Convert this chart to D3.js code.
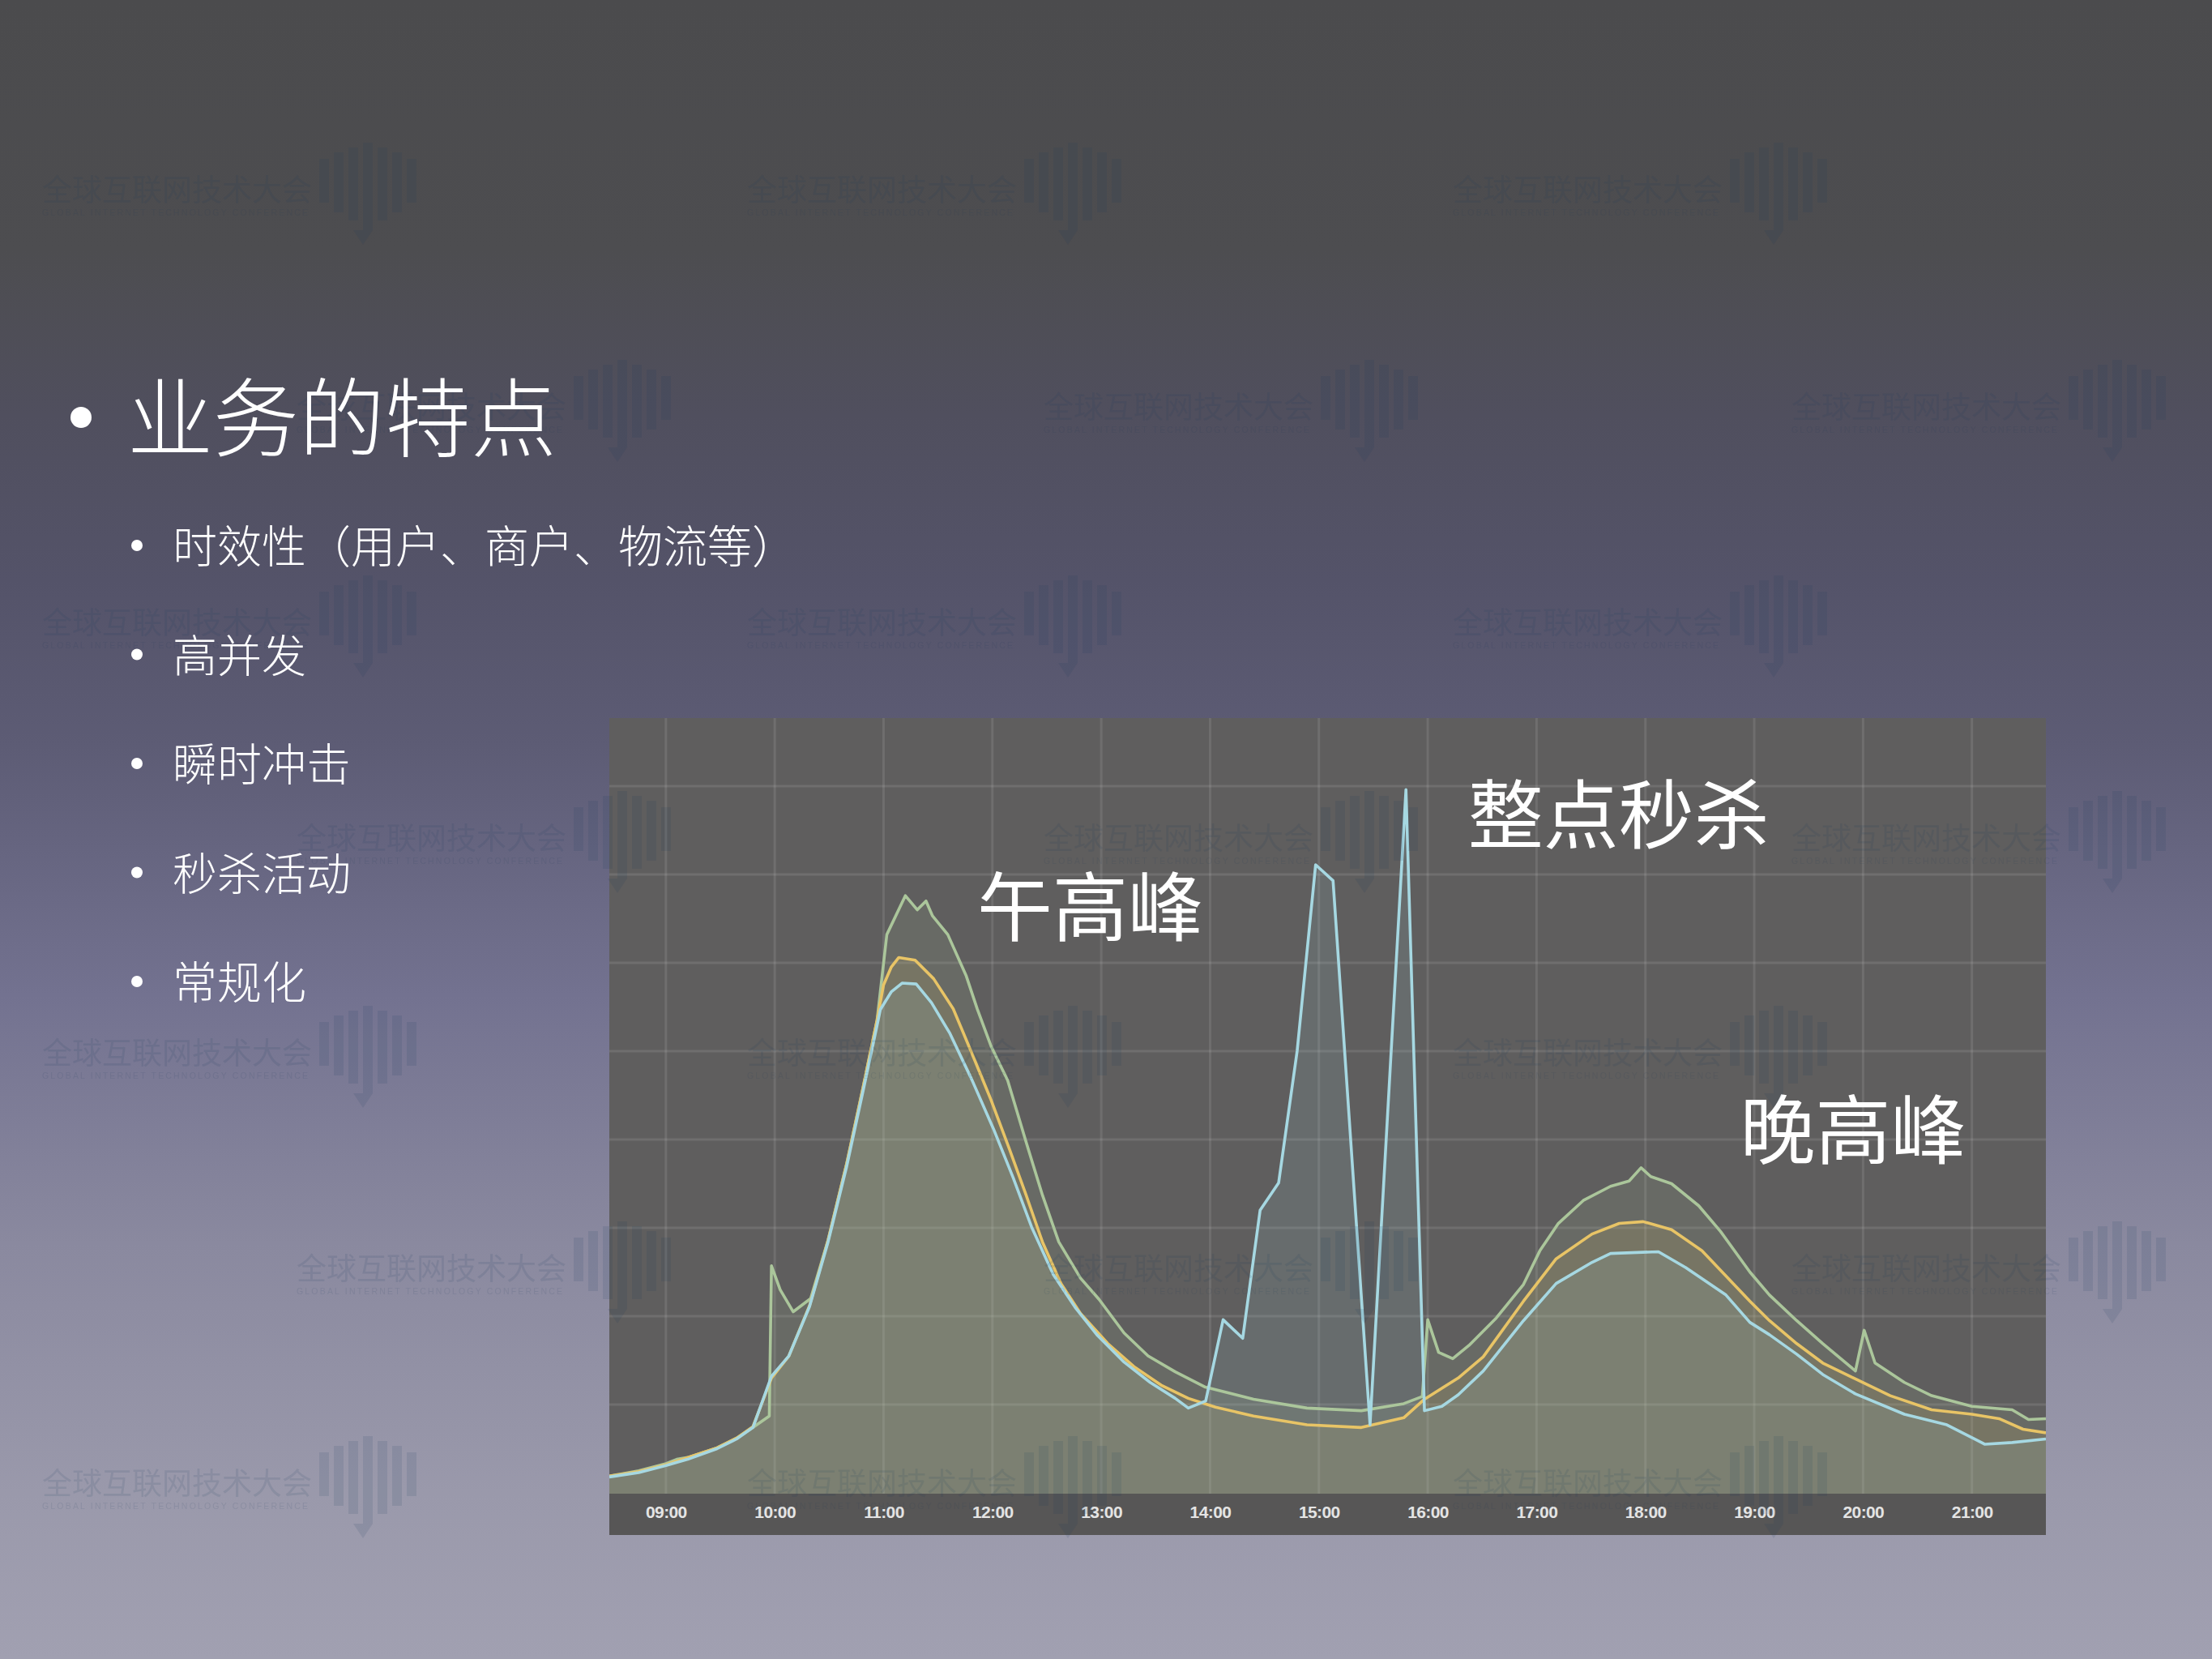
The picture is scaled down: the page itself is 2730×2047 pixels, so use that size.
<!DOCTYPE html>
<html><head><meta charset="utf-8">
<script src="https://cdn.jsdelivr.net/npm/d3@7/dist/d3.min.js"></script>
<style>
html,body{margin:0;padding:0;background:#4b4b4d;overflow:hidden}
text{text-spacing-trim:space-all;font-feature-settings:"chws" 0,"halt" 0,"palt" 0;}
</style>
</head><body>
<svg id="slide" width="2730" height="2047"></svg>
<script>
// ---------- text content ----------
const titleText = "业务的特点";
const bulletItems = ["时效性（用户、商户、物流等）", "高并发", "瞬时冲击", "秒杀活动", "常规化"];
const annotations = [
  {text: "午高峰", t: 11.86, v: 6.62},
  {text: "整点秒杀", t: 16.37, v: 7.67},
  {text: "晚高峰", t: 18.87, v: 4.10}
];
const hourTicks = [9,10,11,12,13,14,15,16,17,18,19,20,21];

// ---------- series: [hour, value] (value in grid units) ----------
const seriesGreen = [
 [8.48,0.19],[8.75,0.25],[9.0,0.33],[9.1,0.38],[9.2,0.40],[9.47,0.51],[9.65,0.62],[9.80,0.74],[9.95,0.87],
 [9.97,2.57],[10.05,2.30],[10.17,2.05],[10.33,2.20],[10.49,2.86],[10.66,3.72],[10.81,4.58],[10.94,5.35],
 [11.03,6.32],[11.2,6.76],[11.31,6.60],[11.39,6.70],[11.45,6.53],[11.59,6.32],[11.76,5.85],[11.86,5.48],
 [11.99,5.05],[12.14,4.67],[12.31,3.97],[12.46,3.37],[12.61,2.84],[12.81,2.43],[12.98,2.19],[13.21,1.81],
 [13.43,1.55],[13.68,1.37],[13.95,1.20],[14.40,1.06],[14.89,0.96],[15.39,0.93],[15.78,1.01],[15.95,1.09],
 [16.0,1.96],[16.10,1.59],[16.23,1.52],[16.38,1.67],[16.63,1.98],[16.88,2.36],[17.03,2.74],[17.20,3.05],
 [17.43,3.31],[17.68,3.47],[17.85,3.53],[17.96,3.68],[18.05,3.58],[18.24,3.50],[18.49,3.25],[18.69,2.96],
 [18.96,2.50],[19.14,2.24],[19.39,1.95],[19.63,1.69],[19.93,1.38],[20.01,1.84],[20.11,1.47],[20.38,1.25],
 [20.63,1.10],[21.0,0.98],[21.37,0.94],[21.52,0.83],[21.68,0.84]
];
const seriesYellow = [
 [8.48,0.19],[8.75,0.24],[9.0,0.32],[9.2,0.40],[9.47,0.51],[9.65,0.62],[9.80,0.75],[9.97,1.30],[10.13,1.55],
 [10.32,2.12],[10.49,2.86],[10.66,3.72],[10.81,4.58],[10.94,5.35],[11.0,5.75],[11.07,5.95],[11.14,6.06],
 [11.29,6.03],[11.46,5.82],[11.64,5.48],[11.81,4.98],[11.99,4.44],[12.16,3.88],[12.31,3.37],[12.46,2.84],
 [12.63,2.37],[12.81,2.03],[13.06,1.69],[13.30,1.43],[13.55,1.22],[13.80,1.07],[14.05,0.97],[14.40,0.87],
 [14.89,0.77],[15.39,0.74],[15.78,0.85],[15.97,1.06],[16.28,1.30],[16.51,1.54],[16.88,2.17],[17.18,2.65],
 [17.51,2.93],[17.76,3.05],[17.98,3.07],[18.24,2.98],[18.52,2.74],[18.96,2.17],[19.14,1.95],[19.39,1.69],
 [19.63,1.47],[19.93,1.29],[20.25,1.10],[20.63,0.94],[21.0,0.89],[21.25,0.84],[21.47,0.72],[21.68,0.68]
];
const seriesBlue = [
 [8.48,0.18],[8.75,0.23],[9.0,0.31],[9.2,0.38],[9.47,0.50],[9.65,0.61],[9.80,0.74],[9.97,1.32],[10.13,1.55],
 [10.32,2.11],[10.49,2.84],[10.66,3.69],[10.81,4.54],[10.94,5.29],[10.97,5.47],[11.07,5.67],[11.17,5.77],
 [11.30,5.76],[11.44,5.55],[11.61,5.20],[11.81,4.68],[12.01,4.12],[12.19,3.57],[12.36,3.01],[12.56,2.47],
 [12.76,2.10],[12.96,1.79],[13.21,1.48],[13.45,1.25],[13.68,1.07],[13.80,0.96],[13.96,1.04],[14.12,1.96],
 [14.30,1.75],[14.46,3.20],[14.63,3.51],[14.80,5.00],[14.97,7.11],[15.13,6.93],[15.47,0.77],[15.80,7.96],
 [15.97,0.93],[16.13,0.98],[16.28,1.11],[16.51,1.38],[16.88,1.95],[17.18,2.37],[17.51,2.61],[17.68,2.71],
 [18.12,2.73],[18.37,2.55],[18.74,2.24],[18.96,1.93],[19.14,1.79],[19.39,1.57],[19.63,1.34],[19.93,1.12],
 [20.38,0.89],[20.77,0.77],[21.12,0.55],[21.37,0.57],[21.68,0.61]
];
const seriesList = [
  {name:"green", data: seriesGreen, color:"#abc69b"},
  {name:"yellow", data: seriesYellow, color:"#e8c466"},
  {name:"blue", data: seriesBlue, color:"#a6d8e2"}
];

// ---------- layout ----------
const W = 2730, H = 2047;
const panel = {x0: 752, x1: 2525, y0: 886, y1: 1894, plotBottom: 1843};
const svg = d3.select("#slide");
const defs = svg.append("defs");

const bg = defs.append("linearGradient").attr("id","bg").attr("x1",0).attr("y1",0).attr("x2",0).attr("y2",1);
[[0,"#4b4b4d"],[0.15,"#4d4d50"],[0.25,"#504f5e"],[0.35,"#545369"],[0.45,"#5d5c75"],[0.6,"#737290"],[0.75,"#8a899f"],[0.9,"#9a99ab"],[1,"#a1a0b1"]]
  .forEach(([o,c]) => bg.append("stop").attr("offset",o).attr("stop-color",c));
svg.append("rect").attr("width",W).attr("height",H).attr("fill","url(#bg)");

// ---------- watermarks ----------
const wmRows = [232,500,766,1032,1297,1563,1828];
const wmColsA = [52,922,1793], wmColsB = [366,1288,2211];
const marks = [];
wmRows.forEach((ry,i)=>{ (i%2===0?wmColsA:wmColsB).forEach(cx=>marks.push([cx,ry])); });
function drawWatermarks(parent){
  const wm = parent.append("g").attr("opacity",0.12).attr("pointer-events","none");
  const g = wm.selectAll("g").data(marks).join("g").attr("transform",d=>`translate(${d[0]},${d[1]})`);
  g.append("text").attr("x",0).attr("y",0).attr("dominant-baseline","central")
    .attr("font-family","'Noto Sans CJK SC',sans-serif").attr("font-size",37).attr("fill","#1f3c5c").text("全球互联网技术大会");
  g.append("text").attr("x",0).attr("y",30).attr("dominant-baseline","central")
    .attr("font-family","'Liberation Sans',sans-serif").attr("font-size",10.5).attr("fill","#1f3c5c")
    .attr("textLength",328).text("GLOBAL INTERNET TECHNOLOGY CONFERENCE");
  const barX = [342,360,378,396,414,432,450];
  const barTop = [-36,-44,-50,-56,-50,-44,-36];
  const barBot = [18,30,40,52,40,30,18];
  barX.forEach((bx,k)=>{
    g.append("rect").attr("x",bx).attr("y",barTop[k]).attr("width",12).attr("height",barBot[k]-barTop[k]).attr("fill","#1f3c5c");
  });
  g.append("path").attr("d","M384,52 L408,52 L396,70 Z").attr("fill","#1f3c5c");
}

// ---------- chart ----------
const x = d3.scaleLinear().domain([8.48, 21.68]).range([panel.x0, panel.x1]);
const y = d3.scaleLinear().domain([0, 8]).range([1842, 970]);

const chart = svg.append("g");
chart.append("rect").attr("x",panel.x0).attr("y",panel.y0).attr("width",panel.x1-panel.x0).attr("height",panel.y1-panel.y0).attr("fill","#5f5e5e");
chart.append("rect").attr("x",panel.x0).attr("y",panel.plotBottom).attr("width",panel.x1-panel.x0).attr("height",panel.y1-panel.plotBottom).attr("fill","#575656");

defs.append("clipPath").attr("id","plotClip").append("rect")
  .attr("x",panel.x0).attr("y",panel.y0).attr("width",panel.x1-panel.x0).attr("height",panel.plotBottom-panel.y0);

const grid = chart.append("g").attr("clip-path","url(#plotClip)");
grid.selectAll("line.h").data(d3.range(1,9)).join("line").attr("class","h")
  .attr("x1",panel.x0).attr("x2",panel.x1).attr("y1",d=>y(d)).attr("y2",d=>y(d))
  .attr("stroke","#ffffff").attr("stroke-opacity",0.10).attr("stroke-width",3);
grid.selectAll("line.v").data(hourTicks).join("line").attr("class","v")
  .attr("y1",panel.y0).attr("y2",panel.plotBottom).attr("x1",d=>x(d)).attr("x2",d=>x(d))
  .attr("stroke","#ffffff").attr("stroke-opacity",0.10).attr("stroke-width",3);

const plot = chart.append("g").attr("clip-path","url(#plotClip)");
const area = d3.area().x(d=>x(d[0])).y0(panel.plotBottom).y1(d=>y(d[1]));
const line = d3.line().x(d=>x(d[0])).y(d=>y(d[1]));
plot.selectAll("path.area").data(seriesList).join("path").attr("class","area")
  .attr("d",d=>area(d.data)).attr("fill",d=>d.color).attr("fill-opacity",0.12);
plot.selectAll("path.line").data(seriesList).join("path").attr("class","line")
  .attr("d",d=>line(d.data)).attr("fill","none").attr("stroke",d=>d.color)
  .attr("stroke-width",3.6).attr("stroke-linejoin","round");

// x axis labels
const xAxis = d3.axisBottom(x).tickValues(hourTicks).tickSize(0).tickPadding(0)
  .tickFormat(h => d3.format("02d")(h) + ":00");
const ax = chart.append("g").attr("transform",`translate(0,1858)`).call(xAxis);
ax.select(".domain").remove();
ax.selectAll("text").attr("font-family","'Liberation Sans',Arial,sans-serif").attr("font-weight","bold")
  .attr("font-size",21).attr("fill","#e4e4e4").attr("letter-spacing",-0.6);

drawWatermarks(svg);

// ---------- bullets ----------
const cjk = "'Noto Sans CJK SC','Noto Sans CJK JP',sans-serif";
svg.append("circle").attr("cx",100).attr("cy",515).attr("r",13).attr("fill","#ffffff");
svg.append("text").attr("x",157).attr("y",515).attr("dy","-0.06em").attr("dominant-baseline","central")
  .attr("font-family",cjk).attr("font-weight",300).attr("font-size",106).attr("fill","#ffffff").text(titleText);

const itemY = d3.scaleLinear().domain([0,4]).range([672,1210]);
const items = svg.append("g").selectAll("g").data(bulletItems).join("g")
  .attr("transform",(d,i)=>`translate(0,${itemY(i)})`);
items.append("circle").attr("cx",169).attr("cy",1).attr("r",7).attr("fill","#ffffff");
items.append("text").attr("x",213).attr("y",0).attr("dy","-0.03em").attr("dominant-baseline","central")
  .attr("font-family",cjk).attr("font-weight",300).attr("font-size",55).attr("fill","#ffffff").text(d=>d);

// annotations
chart.selectAll("text.ann").data(annotations).join("text").attr("class","ann")
  .attr("x",d=>x(d.t)).attr("y",d=>y(d.v)).attr("dy","-0.07em").attr("dominant-baseline","central")
  .attr("font-family",cjk).attr("font-weight",400).attr("font-size",93).attr("fill","#ffffff").text(d=>d.text);
</script>
</body></html>
